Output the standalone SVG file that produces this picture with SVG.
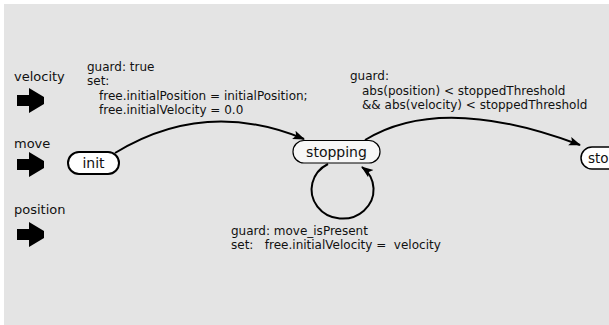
<svg xmlns="http://www.w3.org/2000/svg" width="609" height="325" viewBox="0 0 609 325">
<style>
text{font-family:"DejaVu Sans",sans-serif;fill:#111}
.lbl{font-size:12px}
.port{font-size:13px}
.node{font-size:14px;text-anchor:middle}
.conn{fill:none;stroke:#000;stroke-width:2}
</style>
<defs>
<marker id="arr" viewBox="0 0 12 10" refX="11" refY="5" markerWidth="12" markerHeight="10" markerUnits="userSpaceOnUse" orient="auto">
<path d="M0,0.5 L12,5 L0,9.5 L2.5,5 z" fill="#000"/>
</marker>
<polygon id="portArrow" points="0,-5.5 12,-5.5 12,-12.5 27,-3.5 27,3.5 12,12.5 12,5.5 0,5.5" fill="#000"/>
</defs>
<rect x="4" y="4" width="605" height="321" fill="#e4e4e4"/>
<g id="port-velocity">
<text class="port" x="14" y="81">velocity</text>
<use href="#portArrow" x="17" y="100.5"/>
</g>
<g id="port-move">
<text class="port" x="14" y="148">move</text>
<use href="#portArrow" x="17" y="164.5"/>
</g>
<g id="port-position">
<text class="port" x="14" y="214">position</text>
<use href="#portArrow" x="17" y="234.5"/>
</g>
<g id="connectors">
<path class="conn" d="M115,153 Q205,98 304,139" marker-end="url(#arr)"/>
<path class="conn" d="M365,140 Q441,93 580,145" marker-end="url(#arr)"/>
<path class="conn" d="M328,164 A31 29 0 1 0 362,167" marker-end="url(#arr)"/>
</g>
<g id="label-init-stopping">
<text class="lbl" x="87" y="71">guard: true</text>
<text class="lbl" x="87" y="85">set:</text>
<text class="lbl" x="99" y="100">free.initialPosition = initialPosition;</text>
<text class="lbl" x="99" y="114">free.initialVelocity = 0.0</text>
</g>
<g id="label-stopping-stopped">
<text class="lbl" x="350" y="80">guard:</text>
<text class="lbl" x="362" y="94.5">abs(position) &lt; stoppedThreshold</text>
<text class="lbl" x="362" y="109">&amp;&amp; abs(velocity) &lt; stoppedThreshold</text>
</g>
<g id="label-self">
<text class="lbl" x="231" y="235">guard: move_isPresent</text>
<text class="lbl" x="231" y="249" xml:space="preserve">set:   free.initialVelocity =  velocity</text>
</g>
<g id="node-init">
<rect x="68" y="152" width="51" height="22" rx="11" fill="#fff" stroke="#000" stroke-width="2"/>
<text class="node" x="93.5" y="168">init</text>
</g>
<g id="node-stopping">
<rect x="293" y="140.5" width="87" height="22.5" rx="11" fill="#f7f7f7" stroke="#000" stroke-width="1.2"/>
<text class="node" x="336.5" y="157">stopping</text>
</g>
<g id="node-stopped">
<rect x="581" y="147" width="60" height="22" rx="11" fill="#fff" stroke="#000" stroke-width="1.5"/>
<text class="node" x="588" y="163" style="text-anchor:start;font-size:13.5px">sto</text>
</g>
</svg>
